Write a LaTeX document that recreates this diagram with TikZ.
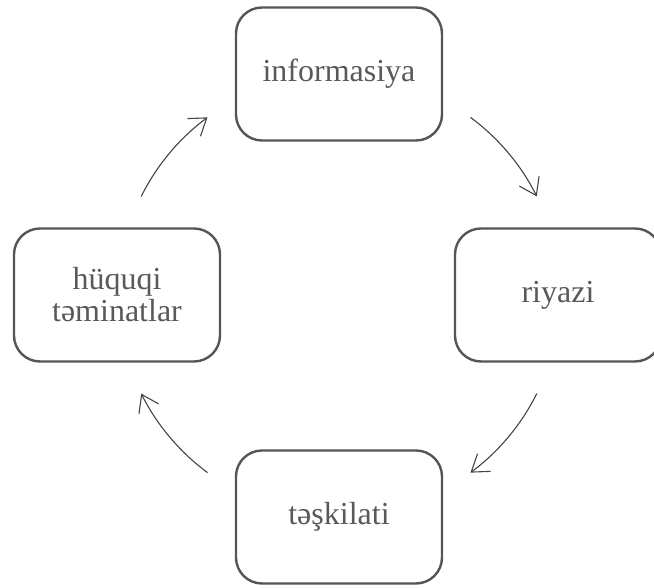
\documentclass[tikz,border=0pt]{standalone}
\usepackage{fontspec}
\setmainfont{Liberation Serif}
\usetikzlibrary{arrows.meta}
\definecolor{boxline}{HTML}{555555}
\definecolor{txt}{HTML}{595959}
\definecolor{arrline}{HTML}{454545}
\begin{document}
\begin{tikzpicture}[x=1pt,y=1pt,
  box/.style={draw=boxline, line width=2.4pt, rounded corners=26pt,
    minimum width=206pt, minimum height=133pt, align=center,
    text=txt, font=\fontsize{32}{32}\selectfont, inner sep=0pt},
  arr/.style={draw=arrline, line width=1.1pt,
    -{Straight Barb[length=16pt,width=22pt,line width=1.1pt]}}]
\useasboundingbox (0,0) rectangle (654,588);
\coordinate (ctr) at (339,293);
\node[box] (top) at (339,514) {informasiya};
\node[box] (right) at (558,293) {riyazi};
\node[box] (bottom) at (339,71) {təşkilati};
\node[box] (left) at (117,293) {hüquqi\\təminatlar};
\draw[arr] ([shift={(53.5:221)}]ctr) arc[start angle=53.5, end angle=26.5, radius=221];
\draw[arr] ([shift={(-26.5:221)}]ctr) arc[start angle=-26.5, end angle=-53.5, radius=221];
\draw[arr] ([shift={(233.5:221)}]ctr) arc[start angle=233.5, end angle=206.5, radius=221];
\draw[arr] ([shift={(153.5:221)}]ctr) arc[start angle=153.5, end angle=126.5, radius=221];
\end{tikzpicture}
\end{document}
